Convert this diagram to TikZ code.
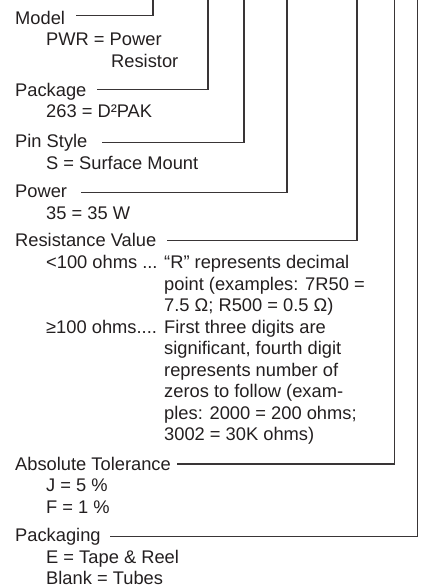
\documentclass[tikz,border=0pt]{standalone}
\usepackage{fontspec}
\setmainfont{Liberation Sans}
\definecolor{ink}{HTML}{231F20}
\begin{document}
\begin{tikzpicture}[x=1pt,y=-1pt,
  txt/.style={anchor=base west,inner sep=0pt,text=ink,font=\fontsize{18.3}{21.5}\selectfont},
  lead/.style={draw=ink!90,line width=1.1pt}]
\useasboundingbox (0,0) rectangle (429,587);
% labels and values
\node[txt] (model) at (15,24) {Model};
\node[txt] (pwr) at (46,45.5) {PWR = Power};
\node[txt] (res) at (111,67) {Resistor};
\node[txt] (pkg) at (15,96) {Package};
\node[txt] (d2pak) at (46,117.5) {263 = D²PAK};
\node[txt] (pin) at (15,147.5) {Pin Style};
\node[txt] (smt) at (46,169) {S = Surface Mount};
\node[txt] (power) at (15,197.5) {Power};
\node[txt] (w35) at (46,219) {35 = 35 W};
\node[txt] (rval) at (15,246.5) {Resistance Value};
\node[txt] (lt) at (46,268.5) {<100 ohms ...};
\node[txt] (lt1) at (164,268.5) {“R” represents decimal};
\node[txt] (lt2) at (164,290) {point (examples: 7R50 =};
\node[txt] (lt3) at (164,311.5) {7.5 Ω; R500 = 0.5 Ω)};
\node[txt] (ge) at (46,333) {≥100 ohms....};
\node[txt] (ge1) at (164,333) {First three digits are};
\node[txt] (ge2) at (164,354.5) {significant, fourth digit};
\node[txt] (ge3) at (164,376) {represents number of};
\node[txt] (ge4) at (164,397.5) {zeros to follow (exam-};
\node[txt] (ge5) at (164,419) {ples: 2000 = 200 ohms;};
\node[txt] (ge6) at (164,440.5) {3002 = 30K ohms)};
\node[txt] (tol) at (15,470) {Absolute Tolerance};
\node[txt] (tolj) at (46,491.5) {J = 5 \%};
\node[txt] (tolf) at (46,513) {F = 1 \%};
\node[txt] (pack) at (15,541.5) {Packaging};
\node[txt] (packe) at (46,563) {E = Tape \& Reel};
\node[txt] (packb) at (46,584.5) {Blank = Tubes};
% leader start points and tops
\coordinate (sModel) at (76,15.7);   \coordinate (tModel) at (153,0);
\coordinate (sPkg) at (97,89.3);     \coordinate (tPkg) at (208,0);
\coordinate (sPin) at (102,142.3);   \coordinate (tPin) at (244,0);
\coordinate (sPow) at (81,192.3);    \coordinate (tPow) at (287,0);
\coordinate (sRes) at (167,240.7);   \coordinate (tRes) at (357,0);
\coordinate (sTol) at (177,464);     \coordinate (tTol) at (394.3,0);
\coordinate (sPack) at (110,536.7);  \coordinate (tPack) at (417.3,0);
\draw[lead] (sModel) -| (tModel);
\draw[lead] (sPkg) -| (tPkg);
\draw[lead] (sPin) -| (tPin);
\draw[lead] (sPow) -| (tPow);
\draw[lead] (sRes) -| (tRes);
\draw[lead] (sTol) -| (tTol);
\draw[lead] (sPack) -| (tPack);
\end{tikzpicture}
\end{document}
